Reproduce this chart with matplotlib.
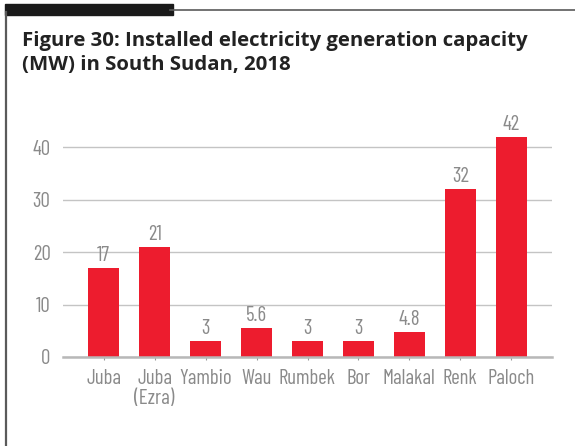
import matplotlib.pyplot as plt
from matplotlib.lines import Line2D
from matplotlib.patches import Rectangle

# ---------- data ----------
sites = ["Juba", "Juba\n(Ezra)", "Yambio", "Wau", "Rumbek", "Bor", "Malakal", "Renk", "Paloch"]
capacity_mw = [17, 21, 3, 5.6, 3, 3, 4.8, 32, 42]
value_labels = ["17", "21", "3", "5.6", "3", "3", "4.8", "32", "42"]
y_ticks = [0, 10, 20, 30, 40]

TITLE = "Figure 30: Installed electricity generation capacity\n(MW) in South Sudan, 2018"
RED = "#ED1C2E"
GREY_TXT = "#8a8a8a"
NARROW = ["Barlow Condensed", "DejaVu Sans"]
NARROW_W = 400
FS = 15

W, H = 575, 446
fig = plt.figure(figsize=(W / 100, H / 100), dpi=100)
fig.patch.set_facecolor("white")

# ---------- frame decorations ----------
fig.add_artist(Line2D([6 / W, 6 / W], [0, 1 - 12 / H], color="#5a5a5a", lw=1.6,
                      transform=fig.transFigure))
fig.add_artist(Line2D([170 / W, 1], [1 - 10 / H, 1 - 10 / H], color="#5a5a5a", lw=1.2,
                      transform=fig.transFigure))
fig.add_artist(Rectangle((5 / W, 1 - 15 / H), 168 / W, 11 / H, color="#1a1a1a",
                         transform=fig.transFigure))

title = fig.text(22 / W, 1 - 31 / H, TITLE, fontsize=12.5, fontweight="bold", color="#222222",
                 family=["Open Sans", "DejaVu Sans"], va="top", ha="left", linespacing=1.25)
# fit title width to the reference (~508 px for the first line)
r = fig.canvas.get_renderer()
w0 = title.get_window_extent(r).width
title.set_fontsize(12.5 * 508 / w0)

# ---------- axes ----------
ax = fig.add_axes([63 / W, 89 / H, 489 / W, 236 / H])
x = range(len(sites))
bars = ax.bar(x, capacity_mw, width=0.61, color=RED, zorder=2)

for b, lab in zip(bars, value_labels):
    ax.annotate(lab, (b.get_x() + b.get_width() / 2, b.get_height()),
                xytext=(0, 2), textcoords="offset points", ha="center", va="bottom",
                fontsize=FS, color=GREY_TXT, family=NARROW, fontweight=NARROW_W)

ax.set_xlim(-0.8, 8.8)
ax.set_ylim(0, 45)
ax.set_yticks(y_ticks)
ax.set_xticks(list(x))
ax.set_xticklabels(sites, fontsize=FS, color=GREY_TXT, family=NARROW,
                   fontweight=NARROW_W, linespacing=1.05)
for t in ax.get_yticklabels():
    t.set_fontsize(FS)
    t.set_color(GREY_TXT)
    t.set_family(NARROW)
    t.set_fontweight(NARROW_W)

ax.yaxis.grid(True, color="#c4c4c4", lw=1.0, zorder=0)
ax.set_axisbelow(True)
for s in ["top", "right", "left"]:
    ax.spines[s].set_visible(False)
ax.spines["bottom"].set_color("#b8b8b8")
ax.spines["bottom"].set_linewidth(1.8)
ax.spines["bottom"].set_zorder(3)
ax.tick_params(axis="y", length=0, pad=9)
ax.tick_params(axis="x", direction="inout", length=5, color="#999999", pad=6)

fig.savefig("out.png", dpi=100)
